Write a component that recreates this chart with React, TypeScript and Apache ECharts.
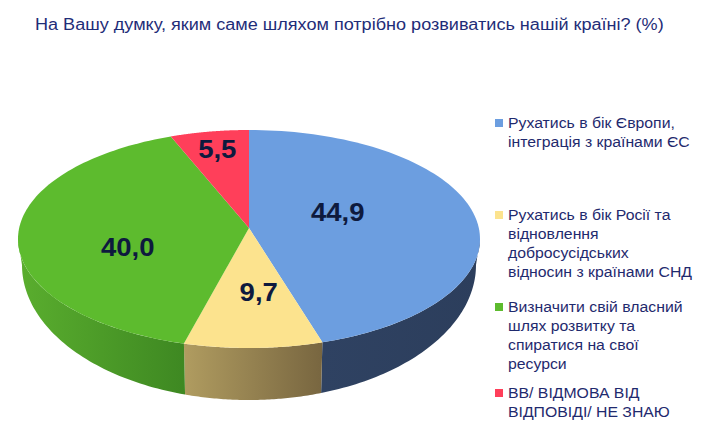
import React, { useEffect, useRef } from "react";
import * as echarts from "echarts";

const titleText = "На Вашу думку, яким саме шляхом потрібно розвиватись нашій країні? (%)";
const categories = [
  "Рухатись в бік Європи,\nінтеграція з країнами ЄС",
  "Рухатись в бік Росії та\nвідновлення\nдобросусідських\nвідносин з країнами СНД",
  "Визначити свій власний\nшлях розвитку та\nспиратися на свої\nресурси",
  "ВВ/ ВІДМОВА ВІД\nВІДПОВІДІ/ НЕ ЗНАЮ",
];
const values = [44.9, 9.7, 40.0, 5.5];
const valueLabels = ["44,9", "9,7", "40,0", "5,5"];
const topColors = ["#6C9EE0", "#FCE38E", "#5DBB2E", "#FF3F5A"];
const sideColors = [
  ["#2F4262", "#2C3E5C"],
  ["#B09C60", "#786640"],
  ["#5AAE2E", "#3E8822"],
  ["#C02A40", "#A02030"],
];

// layout (not data)
const legendY = [123, 215, 307, 393];
const labelNudge = [
  [-39, -12],
  [7, -10],
  [8, 11],
  [0, -1],
];
const CX = 249;
const TOP_CY = 239;
const TOP_RX = 231;
const TOP_RY = 109;
const APEX_Y = 228;
const BOT_CY = 265;
const BOT_RX = 227;
const BOT_RY = 135;
const FONT = "'Liberation Sans', Arial, Helvetica, sans-serif";

function topPt(t: number): number[] {
  return [CX + TOP_RX * Math.sin(t), TOP_CY - TOP_RY * Math.cos(t)];
}
function botPt(t: number): number[] {
  return [CX + BOT_RX * Math.sin(t), BOT_CY - BOT_RY * Math.cos(t)];
}

export default function App() {
  const ref = useRef<HTMLDivElement>(null);
  useEffect(() => {
    if (!ref.current) return;
    const chart = echarts.init(ref.current, null, { renderer: "svg" });
    const total = values.reduce((a, b) => a + b, 0);
    const starts: number[] = [];
    let acc = 0;
    values.forEach((v) => {
      starts.push(acc);
      acc += v;
    });

    const graphics: any[] = [
      {
        type: "text",
        x: 35,
        y: 25,
        scaleX: 1.13,
        style: {
          text: titleText,
          fill: "#1F2D78",
          font: `16px ${FONT}`,
          verticalAlign: "middle",
        },
      },
    ];
    categories.forEach((c, i) => {
      graphics.push({
        type: "rect",
        shape: { x: 495, y: legendY[i] - 4, width: 8, height: 8 },
        style: { fill: topColors[i] },
      });
      graphics.push({
        type: "text",
        x: 508,
        y: legendY[i] - 9.5,
        scaleX: 1.02,
        style: {
          text: c,
          fill: "#1F2A6E",
          font: `15.5px ${FONT}`,
          lineHeight: 18.8,
          verticalAlign: "top",
        },
      });
    });

    const option: any = {
      animation: false,
      backgroundColor: "#ffffff",
      graphic: graphics,
      series: [
        {
          type: "custom",
          coordinateSystem: "none",
          data: values.map((v, i) => [i, v]),
          renderItem: (params: any, api: any) => {
            const i = params.dataIndex;
            const v = api.value(1);
            const a0 = (starts[i] / total) * Math.PI * 2;
            const a1 = a0 + (v / total) * Math.PI * 2;
            const children: any[] = [];
            const s0 = Math.max(a0, Math.PI / 2);
            const s1 = Math.min(a1, (Math.PI * 3) / 2);
            if (s1 > s0) {
              const n = 60;
              const pts: number[][] = [];
              for (let k = 0; k <= n; k++) pts.push(topPt(s0 + ((s1 - s0) * k) / n));
              for (let k = n; k >= 0; k--) pts.push(botPt(s0 + ((s1 - s0) * k) / n));
              children.push({
                type: "polygon",
                shape: { points: pts },
                style: {
                  fill: new echarts.graphic.LinearGradient(0, 0, 1, 0, [
                    { offset: 0, color: sideColors[i][0] },
                    { offset: 1, color: sideColors[i][1] },
                  ]),
                },
              });
            }
            const n2 = 100;
            const tp: number[][] = [[CX, APEX_Y]];
            for (let k = 0; k <= n2; k++) tp.push(topPt(a0 + ((a1 - a0) * k) / n2));
            children.push({
              type: "polygon",
              shape: { points: tp },
              style: { fill: topColors[i] },
            });
            const mid = (a0 + a1) / 2;
            const rf = i === 3 ? 0.8 : i === 1 ? 0.62 : 0.56;
            const lx = CX + TOP_RX * rf * Math.sin(mid) + labelNudge[i][0];
            const ly =
              APEX_Y + (TOP_CY - APEX_Y) * rf - TOP_RY * rf * Math.cos(mid) + labelNudge[i][1];
            children.push({
              type: "text",
              x: lx,
              y: ly,
              scaleX: 1.1,
              style: {
                text: valueLabels[i],
                fill: "#0E1A3E",
                font: `bold 25px ${FONT}`,
                align: "center",
                verticalAlign: "middle",
              },
            });
            return { type: "group", children };
          },
        },
      ],
    };
    chart.setOption(option);
    return () => chart.dispose();
  }, []);
  return (
    <div
      ref={ref}
      style={{ position: "fixed", left: 0, top: 0, width: 713, height: 435 }}
    />
  );
}
